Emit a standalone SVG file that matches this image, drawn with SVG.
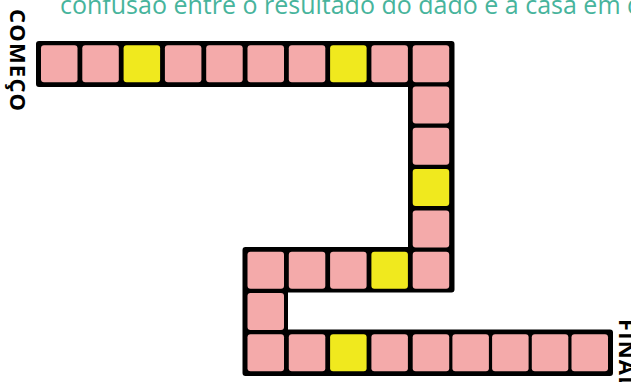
<svg xmlns="http://www.w3.org/2000/svg" width="631" height="382" viewBox="0 0 631 382">
<style>
.p{fill:#F4AAAA}
.y{fill:#F0E91E}
.lbl{font-family:"Open Sans","Liberation Sans",sans-serif;font-weight:bold;font-size:22px;letter-spacing:1.2px;fill:#000}
.top{font-family:"Open Sans","Liberation Sans",sans-serif;font-size:25px;fill:#47B49C}
</style>
<defs>
<rect id="sq" width="36.5" height="37" rx="3"/>
</defs>
<rect width="631" height="382" fill="#fff"/>
<text class="top" x="60" y="13.5">confusão entre o resultado do dado e a casa em q</text>
<g id="comeco"><text class="lbl" transform="translate(10,9) rotate(90)">COMEÇO</text></g>
<g id="final"><text class="lbl" transform="translate(619,319) rotate(90)">FINAL</text></g>
<g id="board">
<path d="M39,44 H451.5 V289.5 H285 V332.5 H610 V373 H245.5 V250 H411 V84 H39 Z" fill="#000" stroke="#000" stroke-width="6" stroke-linejoin="round"/>
</g>
<g id="squares">
<g id="s1"><use href="#sq" class="p" x="41" y="45.2"/></g>
<g id="s2"><use href="#sq" class="p" x="82.3" y="45.2"/></g>
<g id="s3"><use href="#sq" class="y" x="123.6" y="45.2"/></g>
<g id="s4"><use href="#sq" class="p" x="164.9" y="45.2"/></g>
<g id="s5"><use href="#sq" class="p" x="206.2" y="45.2"/></g>
<g id="s6"><use href="#sq" class="p" x="247.5" y="45.2"/></g>
<g id="s7"><use href="#sq" class="p" x="288.8" y="45.2"/></g>
<g id="s8"><use href="#sq" class="y" x="330.1" y="45.2"/></g>
<g id="s9"><use href="#sq" class="p" x="371.4" y="45.2"/></g>
<g id="s10"><use href="#sq" class="p" x="412.7" y="45.2"/></g>
<g id="s11"><use href="#sq" class="p" x="412.7" y="86.5"/></g>
<g id="s12"><use href="#sq" class="p" x="412.7" y="127.8"/></g>
<g id="s13"><use href="#sq" class="y" x="412.7" y="169.1"/></g>
<g id="s14"><use href="#sq" class="p" x="412.7" y="210.4"/></g>
<g id="s15"><use href="#sq" class="p" x="412.7" y="251.7"/></g>
<g id="s16"><use href="#sq" class="y" x="371.4" y="251.7"/></g>
<g id="s17"><use href="#sq" class="p" x="330.1" y="251.7"/></g>
<g id="s18"><use href="#sq" class="p" x="288.8" y="251.7"/></g>
<g id="s19"><use href="#sq" class="p" x="247.5" y="251.7"/></g>
<g id="s20"><use href="#sq" class="p" x="247.5" y="293"/></g>
<g id="s21"><use href="#sq" class="p" x="247.5" y="334.3"/></g>
<g id="s22"><use href="#sq" class="p" x="288.8" y="334.3"/></g>
<g id="s23"><use href="#sq" class="y" x="330.1" y="334.3"/></g>
<g id="s24"><use href="#sq" class="p" x="371.4" y="334.3"/></g>
<g id="s25"><use href="#sq" class="p" x="412.7" y="334.3"/></g>
<g id="s26"><use href="#sq" class="p" x="452.4" y="334.3"/></g>
<g id="s27"><use href="#sq" class="p" x="492.1" y="334.3"/></g>
<g id="s28"><use href="#sq" class="p" x="531.8" y="334.3"/></g>
<g id="s29"><use href="#sq" class="p" x="571.5" y="334.3"/></g>
</g>
<g id="connectors"></g>
</svg>
